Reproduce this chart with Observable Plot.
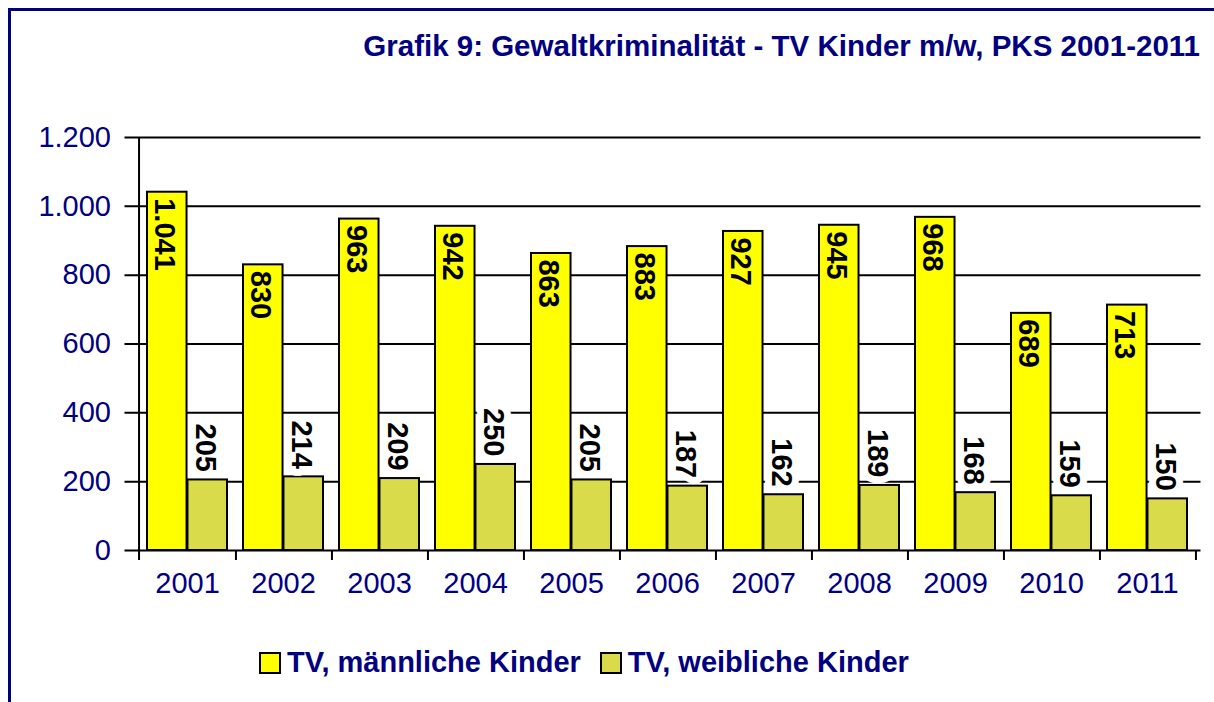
<!DOCTYPE html>
<html><head><meta charset="utf-8">
<script src="https://cdn.jsdelivr.net/npm/d3@7"></script>
<script src="https://cdn.jsdelivr.net/npm/@observablehq/plot@0.6"></script>
<style>
body{margin:0;background:#fff;font-family:"Liberation Sans",Arial,sans-serif;}
#wrap{position:relative;width:1214px;height:702px;overflow:hidden;background:#fff;}
#bt{position:absolute;left:8px;top:8px;width:1206px;height:3px;background:#000080}
#bl{position:absolute;left:8px;top:8px;width:3px;height:694px;background:#000080}
#title{position:absolute;right:14px;top:31px;font-weight:bold;font-size:29.5px;line-height:30px;color:#000080;white-space:nowrap;}
#chart{position:absolute;left:0;top:100px;}
#legend{position:absolute;left:259px;top:648px;display:flex;align-items:center;gap:19px;font-weight:bold;font-size:29px;line-height:29px;color:#000080;white-space:nowrap;}
.item{display:flex;align-items:center;}
.sw{margin-right:6px;display:block;}
</style>
</head><body>
<div id="wrap">
  <div id="bt"></div><div id="bl"></div>
  <div id="title"></div>
  <div id="chart"></div>
  <div id="legend"></div>
</div>
<script>
const title = "Grafik 9: Gewaltkriminalität - TV Kinder m/w, PKS 2001-2011";
const years = ["2001","2002","2003","2004","2005","2006","2007","2008","2009","2010","2011"];
const male = [1041, 830, 963, 942, 863, 883, 927, 945, 968, 689, 713];
const female = [205, 214, 209, 250, 205, 187, 162, 189, 168, 159, 150];
const seriesNames = ["TV, männliche Kinder", "TV, weibliche Kinder"];
const seriesColors = ["#ffff00", "#d9db4a"];
const yTicks = [0, 200, 400, 600, 800, 1000, 1200];

const fmt = d3.formatLocale({decimal: ",", thousands: ".", grouping: [3], currency: ["", "€"]}).format(",d");
const rows = years.map((y, i) => ({year: y, male: male[i], female: female[i]}));

const W = 1214, H = 520, mL = 134.5, mR = 13.5, mT = 37, mB = 70;
const pIn = 0.165, pOut = 0.0825;
const step = (W - mL - mR) / (years.length - pIn + 2 * pOut);
const bw = step * (1 - pIn);
const half = bw / 2;
const navy = "#000080";
const font = "Liberation Sans, Arial, sans-serif";
const fs = 29;

const svg = Plot.plot({
  width: W, height: H,
  marginLeft: mL, marginRight: mR, marginTop: mT, marginBottom: mB,
  style: {fontFamily: font, background: "transparent", overflow: "visible"},
  x: {type: "band", domain: years, paddingInner: pIn, paddingOuter: pOut, axis: null},
  y: {domain: [0, 1200], axis: null},
  marks: [
    Plot.ruleY(yTicks, {stroke: "black", strokeWidth: 2, insetLeft: -10}),
    Plot.ruleX(years.slice(0, 1), {dx: -step / 2, stroke: "black", strokeWidth: 2, insetBottom: -10}),
    Plot.ruleX(years, {dx: step / 2, stroke: "black", strokeWidth: 2, insetTop: H - mT - mB, insetBottom: -10}),
    Plot.barY(rows, {x: "year", y: "male", fill: seriesColors[0], stroke: "black", strokeWidth: 2, insetRight: half}),
    Plot.barY(rows, {x: "year", y: "female", fill: seriesColors[1], stroke: "black", strokeWidth: 2, insetLeft: half}),
    Plot.text(rows, {x: "year", y: "male", text: d => fmt(d.male), rotate: 90, textAnchor: "start", dx: -23, dy: 6,
      fontSize: fs, fontWeight: "bold", fill: "black"}),
    Plot.text(rows, {x: "year", y: "female", text: d => fmt(d.female), rotate: 90, textAnchor: "end", dx: 18, dy: -8,
      fontSize: fs, fontWeight: "bold", fill: "black", stroke: "white", strokeWidth: 14, paintOrder: "stroke"}),
    Plot.text(yTicks, {y: d => d, text: d => fmt(d), frameAnchor: "left", textAnchor: "end", dx: -24,
      fontSize: fs, fill: navy}),
    Plot.text(years, {x: d => d, text: d => d, frameAnchor: "bottom", dy: 42, fontSize: fs, fill: navy})
  ]
});

document.getElementById("chart").appendChild(svg);
document.getElementById("title").textContent = title;

const legend = d3.select("#legend");
seriesNames.forEach((name, i) => {
  const it = legend.append("div").attr("class", "item");
  const sw = it.append("svg").attr("class", "sw").attr("width", 22).attr("height", 22);
  sw.append("rect").attr("x", 1).attr("y", 1).attr("width", 20).attr("height", 20)
    .attr("fill", seriesColors[i]).attr("stroke", "black").attr("stroke-width", 2);
  it.append("span").text(name);
});
</script>
</body></html>
